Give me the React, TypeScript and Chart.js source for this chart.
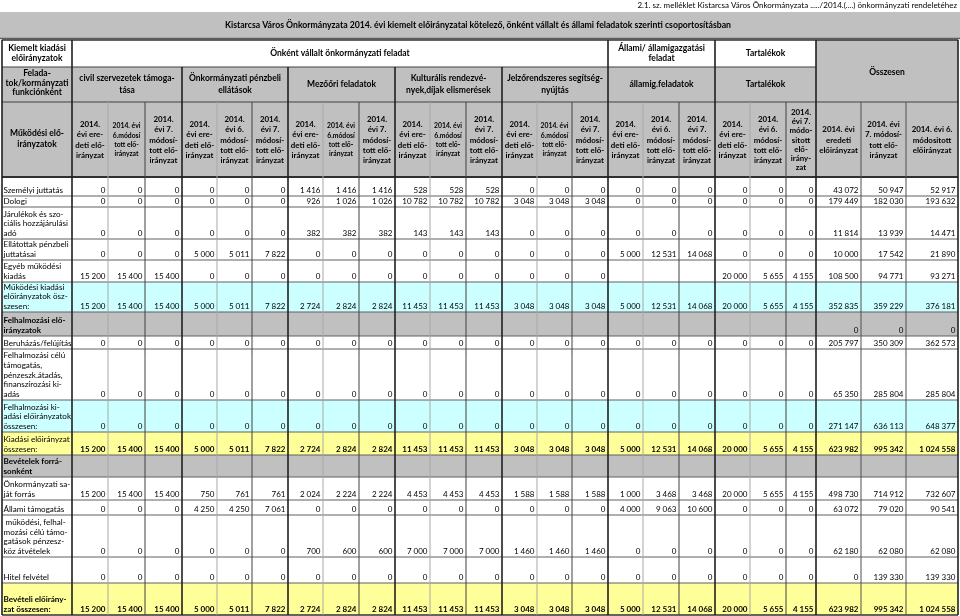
import { useEffect, useRef } from 'react';
import { Chart, registerables } from 'chart.js';

Chart.register(...registerables);

// ---------- texts ----------
const noteText = '2.1. sz. melléklet Kistarcsa Város Önkormányzata ...../2014.(....) önkormányzati rendeletéhez';
const titleText = 'Kistarcsa Város Önkormányzata 2014. évi kiemelt előirányzatai kötelező, önként vállalt és állami feladatok szerinti csoportosításban';

const cornerTop = ['Kiemelt kiadási', 'előirányzatok'];
const cornerMid = ['Felada-', 'tok/kormányzati', 'funkciónként'];
const cornerLow = ['Működési elő-', 'irányzatok'];

const taskTypes = [
  ['Önként vállalt önkormányzati feladat'],
  ['Állami/ államigazgatási', 'feladat'],
  ['Tartalékok'],
];
const totalTitle = ['Összesen'];

const groupNames = [
  ['civil szervezetek támoga-', 'tása'],
  ['Önkormányzati pénzbeli', 'ellátások'],
  ['Mezőőri feladatok'],
  ['Kulturális rendezvé-', 'nyek,díjak elismerések'],
  ['Jelzőrendszeres segítség-', 'nyújtás'],
  ['államig.feladatok'],
  ['Tartalékok'],
];

const hEredeti = ['2014.', 'évi ere-', 'deti elő-', 'irányzat'];
const hMod6Small = ['2014. évi', '6.módosí', 'tott elő-', 'irányzat'];
const hMod6 = ['2014.', 'évi 6.', 'módosí-', 'tott elő-', 'irányzat'];
const hMod7 = ['2014.', 'évi 7.', 'módosí-', 'tott elő-', 'irányzat'];
const hMod7Tart = ['2014.', 'évi 7.', 'módo-', 'sitott', 'elő-', 'irány-', 'zat'];
const hTotals = [
  ['2014. évi', 'eredeti', 'előirányzat'],
  ['2014. évi', '7. módosí-', 'tott elő-', 'irányzat'],
  ['2014. évi 6.', 'módositott', 'előirányzat'],
];
const columnHeaders = [
  hEredeti, hMod6Small, hMod7,
  hEredeti, hMod6, hMod7,
  hEredeti, hMod6Small, hMod7,
  hEredeti, hMod6Small, hMod7,
  hEredeti, hMod6Small, hMod7,
  hEredeti, hMod6, hMod7,
  hEredeti, hMod6, hMod7Tart,
  ...hTotals,
];
const smallHeaderCols = [1, 7, 10, 13];

// ---------- row labels ----------
const rowLabels = [
  ['Személyi juttatás'],
  ['Dologi'],
  ['Járulékok és szo-', 'ciális hozzájárulási', 'adó'],
  ['Ellátottak pénzbeli', 'juttatásai'],
  ['Egyéb működési', 'kiadás'],
  ['Működési kiadási', 'előirányzatok ösz-', 'szesen:'],
  ['Felhalmozási elő-', 'irányzatok'],
  ['Beruházás/felújítás'],
  ['Felhalmozási célú', 'támogatás,', 'pénzeszk.átadás,', 'finanszírozási ki-', 'adás'],
  ['Felhalmozási ki-', 'adási előirányzatok', 'összesen:'],
  ['Kiadási előirányzat', 'összesen:'],
  ['Bevételek forrá-', 'sonként'],
  ['Önkormányzati sa-', 'ját forrás'],
  ['Állami támogatás'],
  [' működési, felhal-', 'mozási célú támo-', 'gatások pénzesz-', 'köz átvételek'],
  ['Hitel felvétel'],
  ['Bevételi előirány-', 'zat összesen:'],
];

// ---------- values (24 columns: 7 groups x 3 + 3 totals) ----------
const N = null;
const szemelyiJuttatas = [0, 0, 0, 0, 0, 0, 1416, 1416, 1416, 528, 528, 528, 0, 0, 0, 0, 0, 0, 0, 0, 0, 43072, 50947, 52917];
const dologi = [0, 0, 0, 0, 0, 0, 926, 1026, 1026, 10782, 10782, 10782, 3048, 3048, 3048, 0, 0, 0, 0, 0, 0, 179449, 182030, 193632];
const jarulekok = [0, 0, 0, 0, 0, 0, 382, 382, 382, 143, 143, 143, 0, 0, 0, 0, 0, 0, 0, 0, 0, 11814, 13939, 14471];
const ellatottak = [0, 0, 0, 5000, 5011, 7822, 0, 0, 0, 0, 0, 0, 0, 0, 0, 5000, 12531, 14068, 0, 0, 0, 10000, 17542, 21890];
const egyebMukodesi = [15200, 15400, 15400, 0, 0, 0, 0, 0, 0, 0, 0, 0, 0, 0, 0, N, N, N, 20000, 5655, 4155, 108500, 94771, 93271];
const mukodesiOsszesen = [15200, 15400, 15400, 5000, 5011, 7822, 2724, 2824, 2824, 11453, 11453, 11453, 3048, 3048, 3048, 5000, 12531, 14068, 20000, 5655, 4155, 352835, 359229, 376181];
const felhalmozasiFejlec = [N, N, N, N, N, N, N, N, N, N, N, N, N, N, N, N, N, N, N, N, N, 0, 0, 0];
const beruhazas = [0, 0, 0, 0, 0, 0, 0, 0, 0, 0, 0, 0, 0, 0, 0, 0, 0, 0, 0, 0, 0, 205797, 350309, 362573];
const felhalmozasiCelu = [0, 0, 0, 0, 0, 0, 0, 0, 0, 0, 0, 0, 0, 0, 0, 0, 0, 0, 0, 0, 0, 65350, 285804, 285804];
const felhalmozasiOsszesen = [0, 0, 0, 0, 0, 0, 0, 0, 0, 0, 0, 0, 0, 0, 0, 0, 0, 0, 0, 0, 0, 271147, 636113, 648377];
const kiadasiOsszesen = [15200, 15400, 15400, 5000, 5011, 7822, 2724, 2824, 2824, 11453, 11453, 11453, 3048, 3048, 3048, 5000, 12531, 14068, 20000, 5655, 4155, 623982, 995342, 1024558];
const bevetelekFejlec = [N, N, N, N, N, N, N, N, N, N, N, N, N, N, N, N, N, N, N, N, N, N, N, N];
const sajatForras = [15200, 15400, 15400, 750, 761, 761, 2024, 2224, 2224, 4453, 4453, 4453, 1588, 1588, 1588, 1000, 3468, 3468, 20000, 5655, 4155, 498730, 714912, 732607];
const allamiTamogatas = [0, 0, 0, 4250, 4250, 7061, 0, 0, 0, 0, 0, 0, 0, 0, 0, 4000, 9063, 10600, 0, 0, 0, 63072, 79020, 90541];
const penzeszkozAtvetel = [0, 0, 0, 0, 0, 0, 700, 600, 600, 7000, 7000, 7000, 1460, 1460, 1460, 0, 0, 0, 0, 0, 0, 62180, 62080, 62080];
const hitelFelvetel = [0, 0, 0, 0, 0, 0, 0, 0, 0, 0, 0, 0, 0, 0, 0, 0, 0, 0, 0, 0, 0, 0, 139330, 139330];
const beveteliOsszesen = [15200, 15400, 15400, 5000, 5011, 7822, 2724, 2824, 2824, 11453, 11453, 11453, 3048, 3048, 3048, 5000, 12531, 14068, 20000, 5655, 4155, 623982, 995342, 1024558];

const rowValues = [
  szemelyiJuttatas, dologi, jarulekok, ellatottak, egyebMukodesi, mukodesiOsszesen,
  felhalmozasiFejlec, beruhazas, felhalmozasiCelu, felhalmozasiOsszesen, kiadasiOsszesen,
  bevetelekFejlec, sajatForras, allamiTamogatas, penzeszkozAtvetel, hitelFelvetel, beveteliOsszesen,
];

// ---------- layout / styles ----------
const colEdges = [2, 72, 108, 145, 182, 217, 252, 288, 323, 359, 395, 430, 466, 502, 537, 572, 608, 643, 679, 715, 750, 786, 816, 861, 906, 958];
const groupEdgeIdx = [0, 1, 4, 7, 10, 13, 16, 19, 22, 25];
const rowEdges = [177, 196, 207, 239, 260, 282, 312, 336, 349, 400, 432, 455, 477, 500, 515, 557, 583, 615];
const rowKinds = ['n', 'n', 'n', 'n', 'n', 'c', 'g', 'n', 'n', 'c', 'y', 'g', 'n', 'n', 'n', 'n', 'yb'];

const GRAY = '#c0c0c0';
const CYAN = '#ccffff';
const YELLOW = '#ffff99';
const FONT = 'Lato, "Liberation Sans", sans-serif';

function fmt(v: number): string {
  return String(v).replace(/\B(?=(\d{3})+(?!\d))/g, ' ');
}

const tablePlugin = {
  id: 'budgetTable',
  afterDraw(chart: any) {
    const ctx: CanvasRenderingContext2D = chart.ctx;
    const xs = chart.scales.x;
    const ys = chart.scales.y;
    const X = (v: number) => xs.getPixelForValue(v);
    const Y = (v: number) => ys.getPixelForValue(v);
    const cx = (i: number) => colEdges[i];

    const fill = (x0: number, y0: number, x1: number, y1: number, c: string) => {
      ctx.fillStyle = c;
      ctx.fillRect(X(x0), Y(y0), X(x1) - X(x0), Y(y1) - Y(y0));
    };
    const lines = (arr: string[], xc: number, yc: number, lh: number, align: CanvasTextAlign = 'center') => {
      ctx.textAlign = align;
      ctx.textBaseline = 'middle';
      const start = yc - ((arr.length - 1) * lh) / 2;
      arr.forEach((t, i) => ctx.fillText(t, X(xc), Y(start + i * lh)));
    };
    const hline = (x0: number, x1: number, y: number, w: number, c: string) => {
      ctx.strokeStyle = c; ctx.lineWidth = w;
      ctx.beginPath(); ctx.moveTo(X(x0), Y(y)); ctx.lineTo(X(x1), Y(y)); ctx.stroke();
    };
    const vline = (x: number, y0: number, y1: number, w: number, c: string) => {
      ctx.strokeStyle = c; ctx.lineWidth = w;
      ctx.beginPath(); ctx.moveTo(X(x), Y(y0)); ctx.lineTo(X(x), Y(y1)); ctx.stroke();
    };

    const L = colEdges[0];
    const R = colEdges[colEdges.length - 1];
    const totStart = colEdges[22];

    ctx.save();
    // top note
    ctx.fillStyle = '#000';
    ctx.font = `8px ${FONT}`;
    ctx.textAlign = 'right';
    ctx.textBaseline = 'middle';
    ctx.fillText(noteText, X(957), Y(5));
    // title band
    fill(0, 12, 960, 38, GRAY);
    hline(0, 960, 38.5, 1.5, '#606060');
    ctx.fillStyle = '#000';
    ctx.font = `bold 8.7px ${FONT}`;
    lines([titleText], 478, 25, 10);

    // header fills
    fill(L, 40, totStart, 67, '#ffffff');
    fill(totStart, 40, R, 102, GRAY);
    fill(L, 67, totStart, 102, GRAY);
    fill(L, 102, R, 177, GRAY);

    // body fills
    rowKinds.forEach((k, r) => {
      const c = k === 'c' ? CYAN : k === 'g' ? GRAY : k.startsWith('y') ? YELLOW : '#ffffff';
      fill(L, rowEdges[r], R, rowEdges[r + 1], c);
    });

    // header texts
    ctx.fillStyle = '#000';
    ctx.font = `bold 8.5px ${FONT}`;
    lines(cornerTop, (colEdges[0] + colEdges[1]) / 2, 53.5, 9.8);
    lines(cornerMid, (colEdges[0] + colEdges[1]) / 2, 83, 9.4);
    lines(cornerLow, (colEdges[0] + colEdges[1]) / 2, 139, 10.5);
    const typeSpans = [[1, 16], [16, 19], [19, 22]];
    taskTypes.forEach((t, i) => {
      const [a, b] = typeSpans[i];
      lines(t, (cx(a) + cx(b)) / 2, 53.5, 10.5);
    });
    lines(totalTitle, (colEdges[22] + colEdges[25]) / 2, 72, 10);
    groupNames.forEach((g, i) => {
      const a = 1 + i * 3;
      lines(g, (colEdges[a] + colEdges[a + 3]) / 2, 84.5, 11.5);
    });
    columnHeaders.forEach((h, i) => {
      const small = smallHeaderCols.includes(i);
      ctx.font = small ? `bold 6.8px ${FONT}` : `bold 7.9px ${FONT}`;
      const lh = small ? 9.2 : (h.length > 5 ? 9.3 : 10.2);
      lines(h, (colEdges[i + 1] + colEdges[i + 2]) / 2, 140, lh);
    });

    // body texts
    rowLabels.forEach((lab, r) => {
      const kind = rowKinds[r];
      const boldLabel = kind === 'g' || kind === 'yb';
      ctx.font = `${boldLabel ? 'bold ' : ''}8.1px ${FONT}`;
      const bottom = rowEdges[r + 1] - 5.5;
      const lh = 9.7;
      ctx.textAlign = 'left';
      ctx.textBaseline = 'middle';
      lab.forEach((t, i) => {
        ctx.fillText(t, X(L + 1.5), Y(bottom - (lab.length - 1 - i) * lh));
      });
      const boldNum = kind.startsWith('y');
      ctx.font = `${boldNum ? 'bold ' : ''}8px ${FONT}`;
      ctx.textAlign = 'right';
      rowValues[r].forEach((v, c) => {
        if (v === null) return;
        ctx.fillText(fmt(v), X(colEdges[c + 2] - 2.5), Y(bottom));
      });
    });

    // horizontal grid lines
    hline(L, R, 40, 1.5, '#303030');
    hline(L, totStart, 67, 1.2, '#404040');
    hline(L, R, 102, 1.2, '#404040');
    hline(L, R, 177, 1.8, '#303030');
    rowEdges.slice(1).forEach((y, i) => {
      const last = i === rowEdges.length - 2;
      hline(L, R, y, last ? 1.5 : 1, last ? '#303030' : '#606060');
    });

    // vertical grid lines
    colEdges.forEach((x, i) => {
      const isGroup = groupEdgeIdx.includes(i);
      const w = isGroup ? 1.6 : 1;
      let color = '#505050';
      if (!isGroup && i < 22) {
        const pos = (i - 1) % 3;
        color = pos === 1 ? '#a8a8a8' : '#404040';
      }
      if (isGroup) color = '#202020';
      if ([0, 1, 16, 19, 22, 25].includes(i)) vline(x, 40, 67, w, color);
      if (isGroup) vline(x, 67, 102, w, color);
      vline(x, 102, 615, w, color);
    });
    ctx.restore();
  },
};

export default function App() {
  const ref = useRef<HTMLCanvasElement | null>(null);
  useEffect(() => {
    document.body.style.margin = '0';
    const canvas = ref.current;
    if (!canvas) return;
    const chart = new Chart(canvas, {
      type: 'scatter',
      data: { datasets: [{ data: [], showLine: false }] },
      options: {
        animation: false,
        responsive: false,
        maintainAspectRatio: false,
        layout: { padding: 0 },
        plugins: { legend: { display: false }, tooltip: { enabled: false } },
        scales: {
          x: { type: 'linear', min: 0, max: 960, display: false },
          y: { type: 'linear', min: 0, max: 616, reverse: true, display: false },
        },
      },
      plugins: [tablePlugin],
    });
    return () => chart.destroy();
  }, []);
  return (
    <div style={{ width: 960, height: 616, background: '#ffffff' }}>
      <canvas ref={ref} width={960} height={616} style={{ display: 'block' }} />
    </div>
  );
}
